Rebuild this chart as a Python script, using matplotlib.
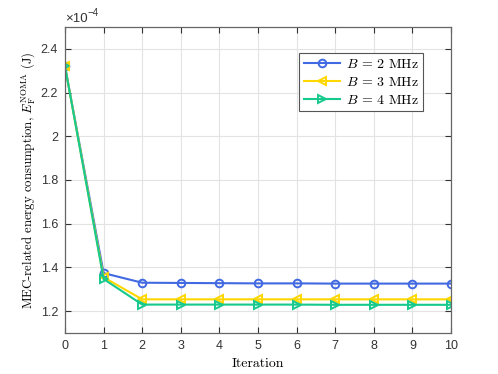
import numpy as np
import matplotlib.pyplot as plt

# energy values in units of 1e-4 J
iterations = np.arange(0, 11)
e_b2 = [2.32, 1.374, 1.330, 1.329, 1.328, 1.327, 1.327, 1.326, 1.326, 1.326, 1.326]
e_b3 = [2.32, 1.355, 1.254, 1.254, 1.254, 1.254, 1.254, 1.254, 1.254, 1.254, 1.254]
e_b4 = [2.32, 1.347, 1.230, 1.230, 1.230, 1.230, 1.230, 1.229, 1.229, 1.229, 1.229]
labels = [r'$B$ = 2 MHz', r'$B$ = 3 MHz', r'$B$ = 4 MHz']

plt.rcParams['mathtext.fontset'] = 'cm'
plt.rcParams['font.family'] = 'Liberation Sans'

fig = plt.figure(figsize=(4.98, 3.74), dpi=100)
ax = fig.add_axes([65 / 498, 1 - 333 / 374, 386 / 498, 306 / 374])

ax.plot(iterations, e_b2, '-o', color='#4169E1', mfc='none', mew=1.4, ms=5.5, lw=1.5, label=labels[0])
ax.plot(iterations, e_b3, '-<', color='#FFD700', mfc='none', mew=1.4, ms=5.5, lw=1.5, label=labels[1])
ax.plot(iterations, e_b4, '->', color='#16C98D', mfc='none', mew=1.4, ms=5.5, lw=1.5, label=labels[2])

ax.set_xlim(0, 10)
ax.set_ylim(1.1, 2.5)
ax.set_xticks(iterations)
ax.set_yticks([1.2, 1.4, 1.6, 1.8, 2.0, 2.2, 2.4])
ax.set_yticklabels(['1.2', '1.4', '1.6', '1.8', '2', '2.2', '2.4'])
ax.grid(True, color='#e3e3e3', lw=0.8)
ax.set_axisbelow(True)
ax.tick_params(direction='in', top=True, right=True, labelsize=9, colors='#333333', length=4,
               width=0.8, pad=5)
for s in ax.spines.values():
    s.set_color('#666666')
    s.set_linewidth(0.9)

# MATLAB-style exponent label
ax.text(0.0, 1.008, '\u00d710', transform=ax.transAxes, fontsize=9.5, color='#333333',
        va='bottom', ha='left')
ax.text(0.058, 1.03, '\u22124', transform=ax.transAxes, fontsize=7, color='#333333',
        va='bottom', ha='left')

ax.set_xlabel('Iteration', family='cmr10', fontsize=10, labelpad=4)
ax.set_ylabel(r'MEC-related energy consumption, $E_{\rm F}^{\rm NOMA}$ (J)', family='cmr10', fontsize=9.2,
              labelpad=3)

leg = ax.legend(loc='upper right', bbox_to_anchor=(0.928, 0.915), fancybox=False, framealpha=1,
                edgecolor='#555555', prop={'family': 'cmr10', 'size': 10}, handlelength=2.6,
                borderpad=0.35, labelspacing=0.35, handletextpad=0.4, borderaxespad=0)
leg.get_frame().set_linewidth(0.8)

fig.savefig('out.png', dpi=100)
